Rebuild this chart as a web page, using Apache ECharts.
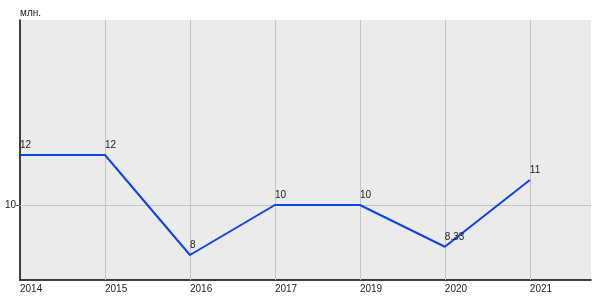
<!DOCTYPE html>
<html><head><meta charset="utf-8">
<script src="https://cdn.jsdelivr.net/npm/echarts@6/dist/echarts.min.js"></script>
<style>html,body{margin:0;padding:0;background:#fff}#c{width:600px;height:300px}</style>
</head><body><div id="c"></div>
<script>
var categories = ['2014','2015','2016','2017','2019','2020','2021'];
var values = [12, 12, 8, 10, 10, 8.33, 11];
var valueLabels = ['12','12','8','10','10','8.33','11'];
var yTicks = [10];
var yUnit = 'млн.';

var chart = echarts.init(document.getElementById('c'));
var font = 'Liberation Sans, Arial, sans-serif';
var vLines = [];
for (var i = 1; i < categories.length; i++) vLines.push({xAxis: i});
var hLines = yTicks.map(function(v){return {yAxis: v};});

chart.setOption({
  animation: false,
  grid: {left: 20, right: 9, top: 20, bottom: 20, show: true, backgroundColor: '#ebebeb', borderWidth: 0},
  xAxis: {
    type: 'value', min: 0, max: 6.72, interval: 1,
    axisLine: {show: true, lineStyle: {color: '#000', width: 1.5}},
    axisTick: {show: false},
    splitLine: {show: false},
    axisLabel: {
      align: 'left', margin: 4, color: '#222', fontSize: 10, fontFamily: font,
      showMaxLabel: false,
      formatter: function(v){ return (Math.abs(v - Math.round(v)) < 1e-6 && categories[Math.round(v)]) ? categories[Math.round(v)] : ''; }
    }
  },
  yAxis: {
    type: 'value', min: 7, max: 17.4,
    name: yUnit, nameLocation: 'end', nameGap: 2,
    nameTextStyle: {align: 'left', color: '#222', fontSize: 10, fontFamily: font},
    axisLine: {show: true, lineStyle: {color: '#000', width: 1.5}},
    axisTick: {show: true, length: 4, customValues: yTicks, lineStyle: {color: '#555'}},
    splitLine: {show: false},
    axisLabel: {customValues: yTicks, margin: 4, color: '#222', fontSize: 10, fontFamily: font}
  },
  series: [
    {
      type: 'line', data: [], silent: true, z: 1,
      markLine: {
        silent: true, symbol: 'none', label: {show: false}, z: 1,
        lineStyle: {color: '#c4c4c4', type: 'solid', width: 1},
        emphasis: {disabled: true},
        data: vLines.concat(hLines)
      }
    },
    {
      type: 'line', z: 5,
      data: values.map(function(v, i){ return [i, v]; }),
      symbol: 'circle', symbolSize: 2, showSymbol: true,
      itemStyle: {color: 'rgba(0,0,0,0)', borderWidth: 0},
      lineStyle: {color: '#0a47e0', width: 2},
      label: {
        show: true, position: 'top', align: 'left', distance: 4,
        color: '#222', fontSize: 10, fontFamily: font,
        formatter: function(p){ return valueLabels[p.dataIndex]; }
      },
      labelLayout: {hideOverlap: false}
    }
  ]
});
</script></body></html>
